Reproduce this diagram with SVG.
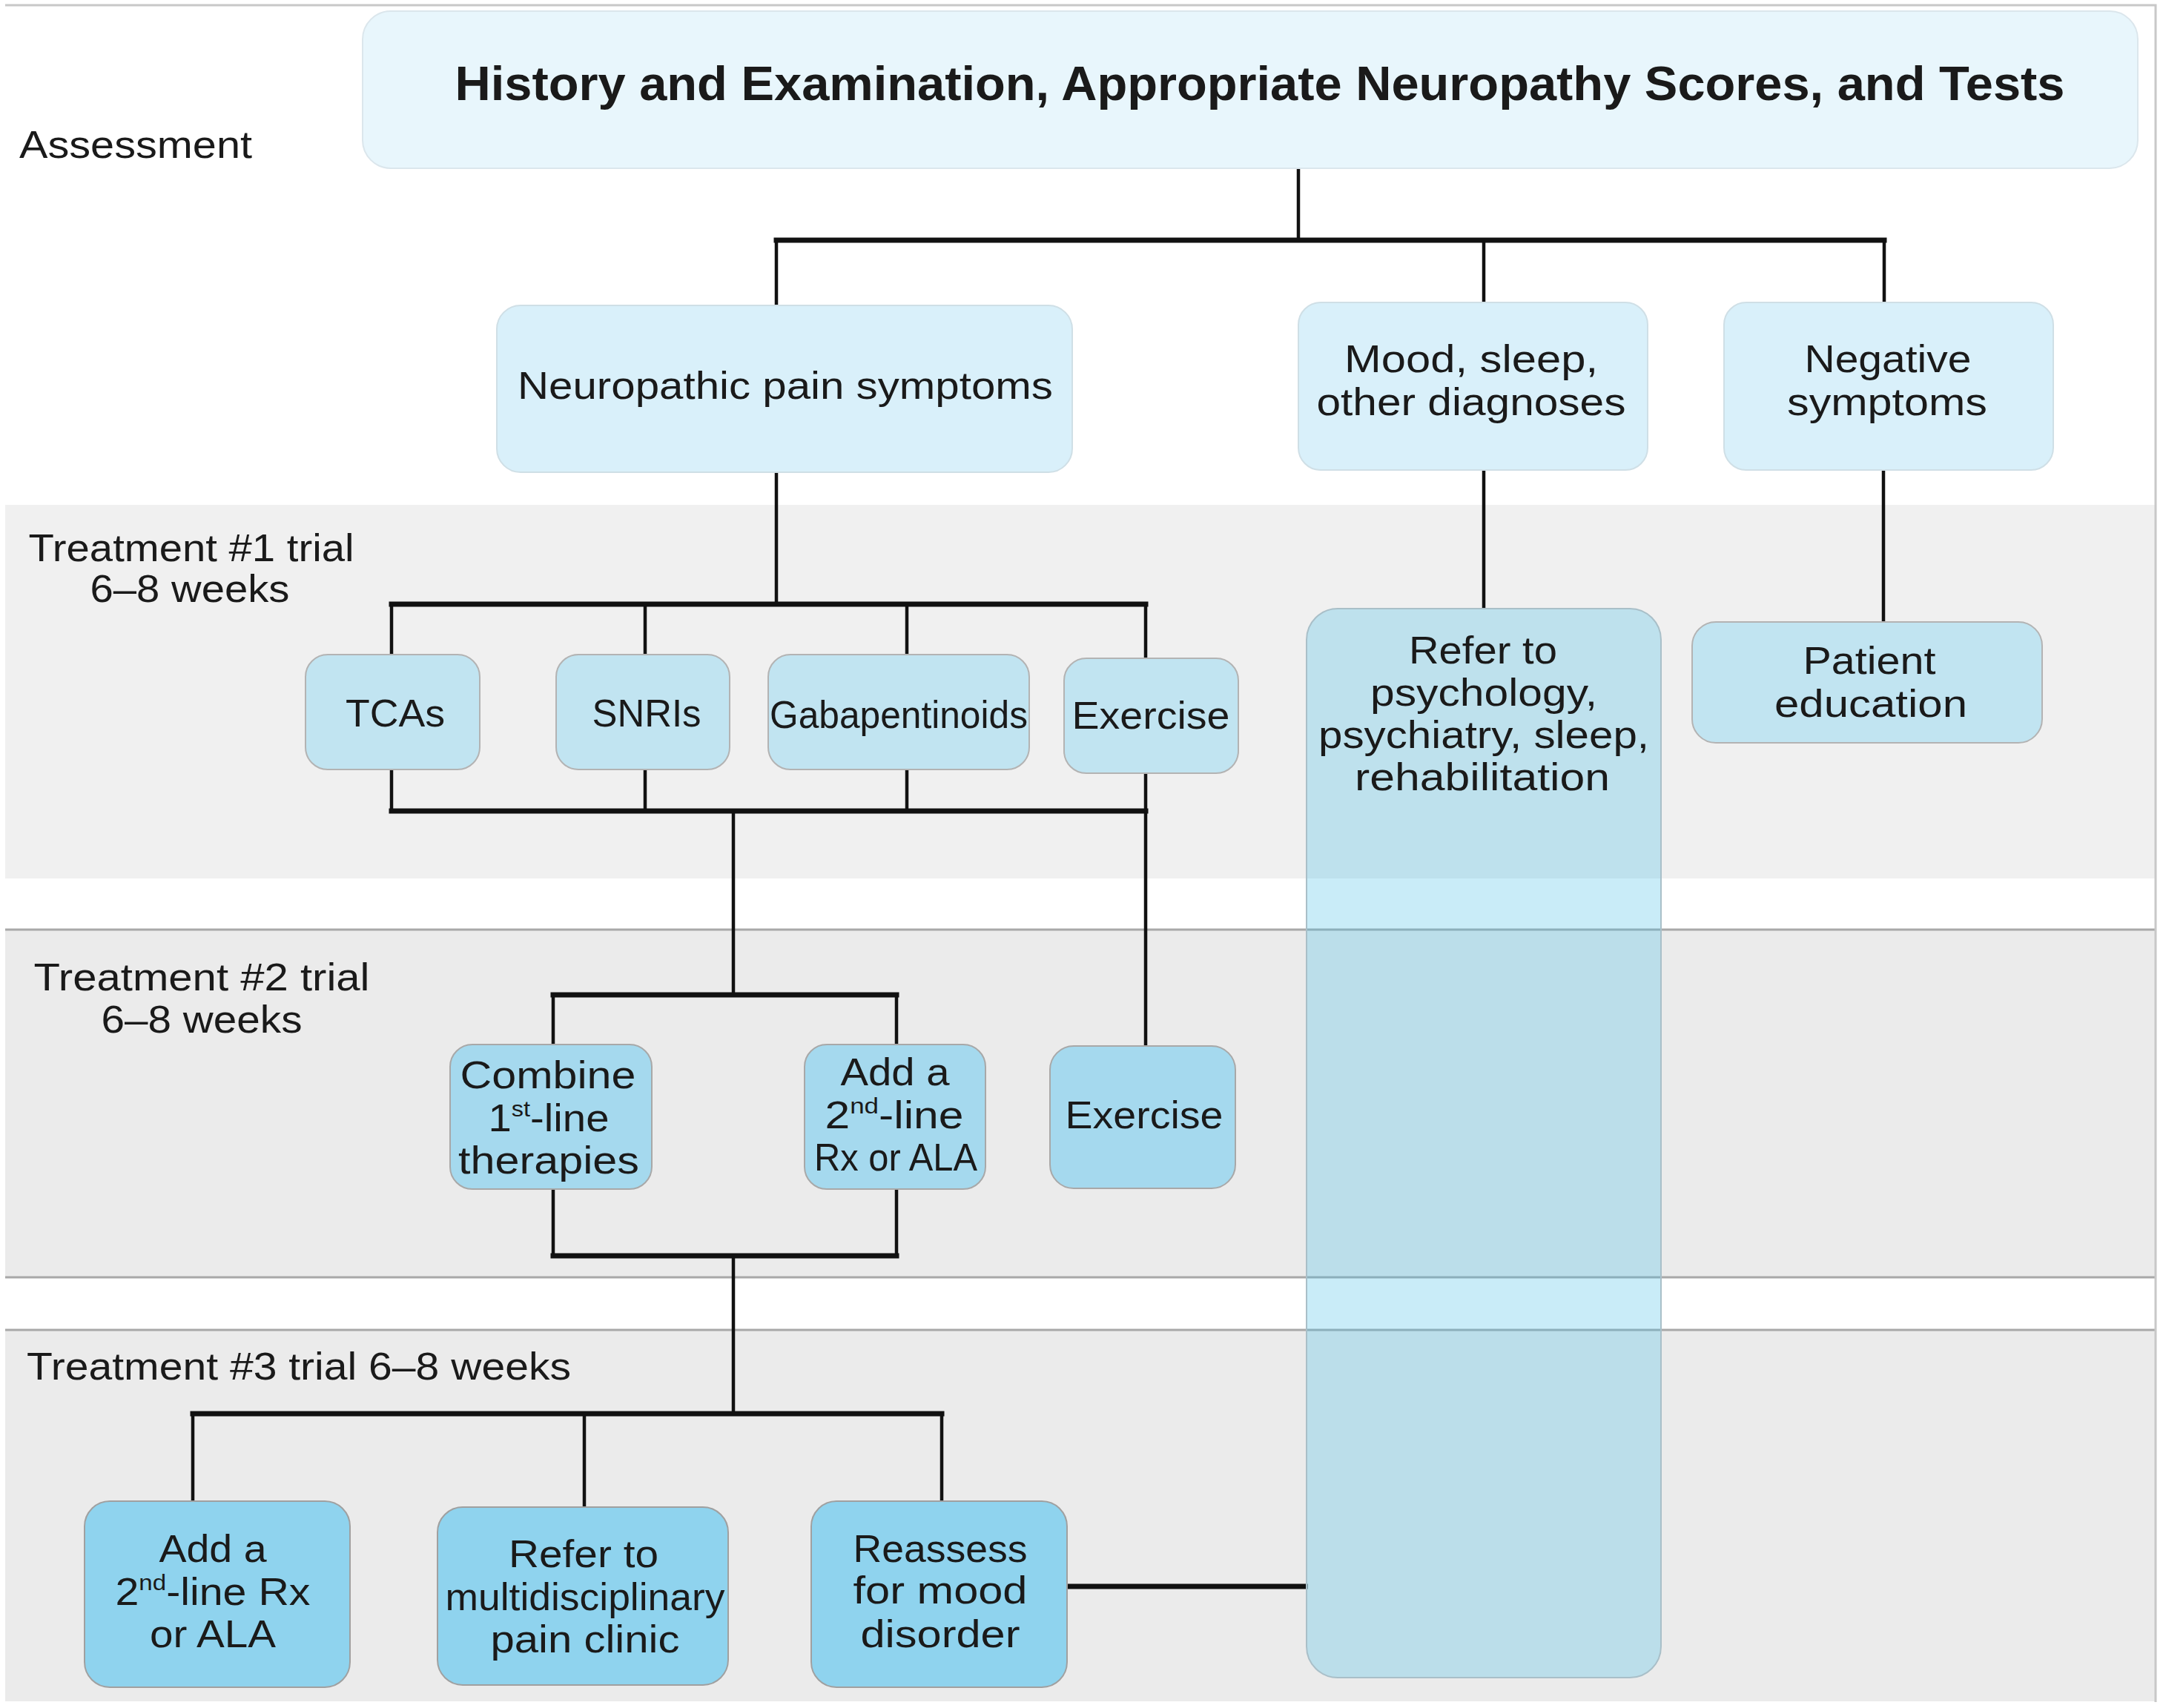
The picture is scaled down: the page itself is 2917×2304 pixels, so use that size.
<svg xmlns="http://www.w3.org/2000/svg" width="2917" height="2304" viewBox="0 0 2917 2304">
<style>
text{font-family:"Liberation Sans",Arial,sans-serif;font-size:52px;fill:#1a1a1a;text-anchor:middle}
.lbl{text-anchor:start}
.ttl{font-weight:bold;font-size:64px}
.band1{fill:#f0f0f0}
.band{fill:#ebebeb}
.bline{stroke:#a8a8a8;stroke-width:3;fill:none}
.thin{stroke:#111;stroke-width:4.5;fill:none}
.thick{stroke:#111;stroke-width:7;fill:none;stroke-linecap:square}
.n0{fill:#e8f6fc;stroke:#dbe6ec;stroke-width:2}
.n1{fill:#d9f0fa;stroke:#cfdfe6;stroke-width:2}
.n2{fill:#c1e4f1;stroke:#b3b3b3;stroke-width:2}
.n3{fill:#a5d9ee;stroke:#a8a8a8;stroke-width:2}
.n4{fill:#8fd3ee;stroke:#a0a0a0;stroke-width:2}
.nbig{fill:rgb(75,192,232);fill-opacity:0.3;stroke:#a9bfc8;stroke-width:2}
</style>
<rect x="0" y="0" width="2917" height="2304" fill="#ffffff"/>
<g id="bands">
<rect class="band1" x="7" y="681" width="2900" height="504"/>
<rect class="band" x="7" y="1254" width="2900" height="469"/>
<rect class="band" x="7" y="1794" width="2900" height="501"/>
<path class="bline" d="M7 1254H2907M7 1723H2907M7 1794H2907"/>
<path d="M7 7H2907V2296" fill="none" stroke="#c8c8c8" stroke-width="3"/>
</g>
<g id="labels">
<text class="lbl" x="26" y="213" textLength="314" lengthAdjust="spacingAndGlyphs">Assessment</text>
<text x="258" y="757" textLength="439" lengthAdjust="spacingAndGlyphs">Treatment #1 trial</text>
<text x="256" y="812" textLength="269" lengthAdjust="spacingAndGlyphs">6–8 weeks</text>
<text x="272" y="1336" textLength="453" lengthAdjust="spacingAndGlyphs">Treatment #2 trial</text>
<text x="272" y="1393" textLength="271" lengthAdjust="spacingAndGlyphs">6–8 weeks</text>
<text class="lbl" x="36" y="1861" textLength="734" lengthAdjust="spacingAndGlyphs">Treatment #3 trial 6–8 weeks</text>
</g>
<g id="connectors">
<path class="thin" d="M1751 227V324M1047 324V412M2001 324V408M2541 324V408M1047 637V815M528 815V883M870 815V883M1223 815V883M1545 815V888M2001 634V821M2540 634V839M528 1038V1094M870 1038V1094M1223 1038V1094M1545 1043V1411M989 1094V1342M746 1342V1409M1209 1342V1409M746 1604V1694M1209 1604V1694M989 1694V1907M260 1907V2025M788 1907V2033M1270 1907V2025"/>
<path class="thick" d="M1047 324H2541M528 815H1545M528 1094H1545M746 1342H1209M746 1694H1209M260 1907H1270M1442 2140H1760"/>
</g>
<g id="n-title">
<rect class="n0" x="489" y="15" width="2394" height="212" rx="38"/>
<text class="ttl" x="1699" y="135" textLength="2171" lengthAdjust="spacingAndGlyphs">History and Examination, Appropriate Neuropathy Scores, and Tests</text>
</g>
<g id="n-neuropathic">
<rect class="n1" x="670" y="412" width="776" height="225" rx="32"/>
<text x="1059" y="538" textLength="722" lengthAdjust="spacingAndGlyphs">Neuropathic pain symptoms</text>
</g>
<g id="n-mood">
<rect class="n1" x="1751" y="408" width="471" height="226" rx="30"/>
<text x="1984" y="502" textLength="342" lengthAdjust="spacingAndGlyphs">Mood, sleep,</text>
<text x="1984" y="560" textLength="417" lengthAdjust="spacingAndGlyphs">other diagnoses</text>
</g>
<g id="n-negative">
<rect class="n1" x="2325" y="408" width="444" height="226" rx="30"/>
<text x="2546" y="502" textLength="225" lengthAdjust="spacingAndGlyphs">Negative</text>
<text x="2545" y="560" textLength="270" lengthAdjust="spacingAndGlyphs">symptoms</text>
</g>
<g id="n-tcas">
<rect class="n2" x="412" y="883" width="235" height="155" rx="30"/>
<text x="533" y="980" textLength="134" lengthAdjust="spacingAndGlyphs">TCAs</text>
</g>
<g id="n-snris">
<rect class="n2" x="750" y="883" width="234" height="155" rx="30"/>
<text x="872" y="980" textLength="147" lengthAdjust="spacingAndGlyphs">SNRIs</text>
</g>
<g id="n-gaba">
<rect class="n2" x="1036" y="883" width="352" height="155" rx="30"/>
<text x="1212" y="982" textLength="348" lengthAdjust="spacingAndGlyphs">Gabapentinoids</text>
</g>
<g id="n-exercise1">
<rect class="n2" x="1435" y="888" width="235" height="155" rx="30"/>
<text x="1552" y="983" textLength="213" lengthAdjust="spacingAndGlyphs">Exercise</text>
</g>
<g id="n-refer-psych">
<rect class="nbig" x="1762" y="821" width="478" height="1442" rx="42"/>
<text x="2000" y="895" textLength="200" lengthAdjust="spacingAndGlyphs">Refer to</text>
<text x="2001" y="952" textLength="306" lengthAdjust="spacingAndGlyphs">psychology,</text>
<text x="2001" y="1009" textLength="446" lengthAdjust="spacingAndGlyphs">psychiatry, sleep,</text>
<text x="1999" y="1066" textLength="344" lengthAdjust="spacingAndGlyphs">rehabilitation</text>
</g>
<g id="n-patient">
<rect class="n2" x="2282" y="839" width="472" height="163" rx="32"/>
<text x="2521" y="909" textLength="179" lengthAdjust="spacingAndGlyphs">Patient</text>
<text x="2523" y="967" textLength="260" lengthAdjust="spacingAndGlyphs">education</text>
</g>
<g id="n-combine">
<rect class="n3" x="607" y="1409" width="272" height="195" rx="30"/>
<text x="739" y="1468" textLength="237" lengthAdjust="spacingAndGlyphs">Combine</text>
<text x="740" y="1526" textLength="163" lengthAdjust="spacingAndGlyphs">1<tspan dy="-20" font-size="30">st</tspan><tspan dy="20">-line</tspan></text>
<text x="740" y="1583" textLength="244" lengthAdjust="spacingAndGlyphs">therapies</text>
</g>
<g id="n-add2">
<rect class="n3" x="1085" y="1409" width="244" height="195" rx="30"/>
<text x="1207" y="1464" textLength="147" lengthAdjust="spacingAndGlyphs">Add a</text>
<text x="1206" y="1522" textLength="187" lengthAdjust="spacingAndGlyphs">2<tspan dy="-20" font-size="30">nd</tspan><tspan dy="20">-line</tspan></text>
<text x="1208" y="1579" textLength="220" lengthAdjust="spacingAndGlyphs">Rx or ALA</text>
</g>
<g id="n-exercise2">
<rect class="n3" x="1416" y="1411" width="250" height="192" rx="32"/>
<text x="1543" y="1522" textLength="213" lengthAdjust="spacingAndGlyphs">Exercise</text>
</g>
<g id="n-add3">
<rect class="n4" x="114" y="2025" width="358" height="251" rx="34"/>
<text x="287" y="2107" textLength="145" lengthAdjust="spacingAndGlyphs">Add a</text>
<text x="287" y="2165" textLength="263" lengthAdjust="spacingAndGlyphs">2<tspan dy="-20" font-size="30">nd</tspan><tspan dy="20">-line Rx</tspan></text>
<text x="287" y="2222" textLength="170" lengthAdjust="spacingAndGlyphs">or ALA</text>
</g>
<g id="n-multi">
<rect class="n4" x="590" y="2033" width="392" height="240" rx="34"/>
<text x="787" y="2114" textLength="202" lengthAdjust="spacingAndGlyphs">Refer to</text>
<text x="789" y="2172" textLength="377" lengthAdjust="spacingAndGlyphs">multidisciplinary</text>
<text x="789" y="2229" textLength="255" lengthAdjust="spacingAndGlyphs">pain clinic</text>
</g>
<g id="n-reassess">
<rect class="n4" x="1094" y="2025" width="345" height="251" rx="34"/>
<text x="1268" y="2107" textLength="235" lengthAdjust="spacingAndGlyphs">Reassess</text>
<text x="1268" y="2163" textLength="235" lengthAdjust="spacingAndGlyphs">for mood</text>
<text x="1268" y="2222" textLength="215" lengthAdjust="spacingAndGlyphs">disorder</text>
</g>
</svg>
